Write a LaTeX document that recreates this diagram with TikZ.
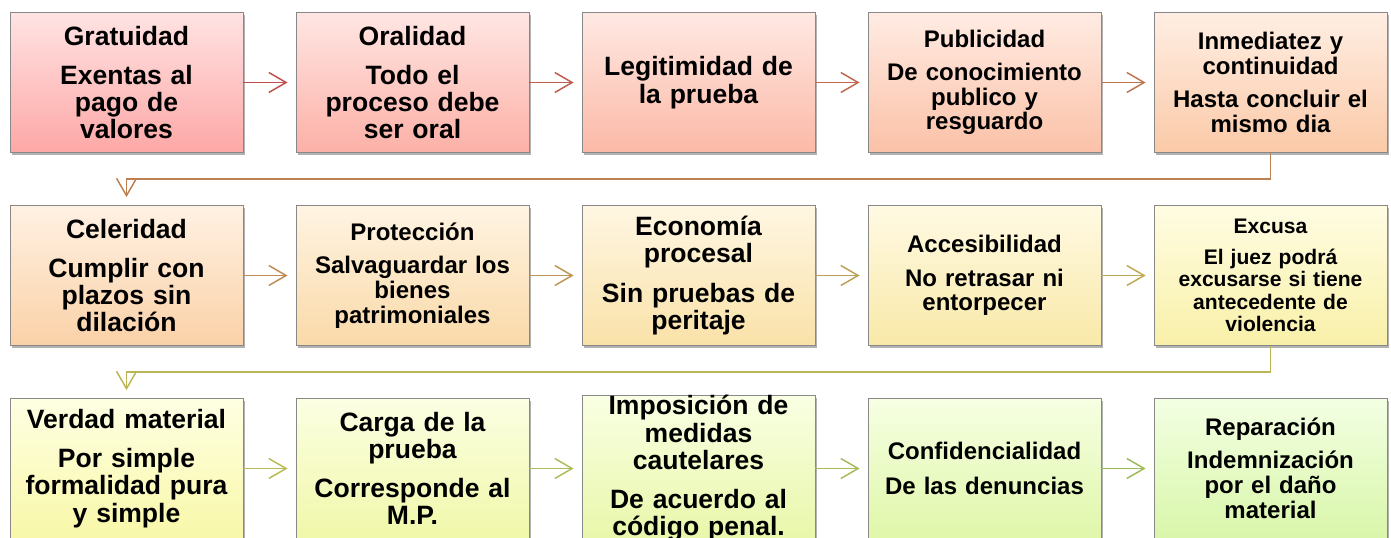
\documentclass[tikz,border=0pt]{standalone}
\usepackage{fontspec}
\setmainfont{Liberation Sans}
\usetikzlibrary{arrows.meta,shadows,calc}
\definecolor{bordergray}{HTML}{888888}
\foreach \k in {0,...,13}{%
 \pgfmathsetmacro\myH{(1.6+78*\k/13)/360}%
 \pgfmathsetmacro\myS{0.599-0.075*\k/13}%
 \pgfmathsetmacro\myV{0.753-0.02*\k/13}%
 \edef\mytmp{\noexpand\xglobal\noexpand\definecolor{arr\k}{hsb}{\myH,\myS,\myV}}\mytmp}
\foreach \k in {1,...,15}{%
 \pgfmathsetmacro\myT{(\k-1)/14}%
 \pgfmathsetmacro\myHt{85*\myT/360}%
 \pgfmathsetmacro\myHb{(1+82*\myT)/360}%
 \pgfmathsetmacro\mySb{0.34-0.03*\myT}%
 \pgfmathsetmacro\myVb{0.99-0.025*\myT}%
 \edef\mytmp{\noexpand\xglobal\noexpand\definecolor{top\k}{hsb}{\myHt,0.11,1}\noexpand\xglobal\noexpand\definecolor{bot\k}{hsb}{\myHb,\mySb,\myVb}}\mytmp}
\tikzset{
 box/.style={draw=bordergray, line width=0.6pt, minimum width=174.75pt, minimum height=105pt,
   text width=174.75pt, inner sep=0pt, align=center,
   drop shadow={shadow xshift=1.5pt, shadow yshift=-2pt, opacity=0.3, fill=black}},
 big/.style={font=\bfseries\fontsize{19.9}{20.5}\selectfont},
 med/.style={font=\bfseries\fontsize{18}{18.6}\selectfont},
 small/.style={font=\bfseries\fontsize{15.8}{16.9}\selectfont},
 flow/.style={line width=1.1pt, -{Straight Barb[length=13pt,width=15pt]}, shorten >=6pt},
}
\begin{document}
\begin{tikzpicture}[x=0.75pt,y=-0.75pt]
\useasboundingbox (0,0) rectangle (1391,538);
\fill[white] (0,0) rectangle (1391,538);
% row 1
\node[box,big,top color=top1,bottom color=bot1] (b1) at (126.5,82.5) {Gratuidad\\[8.8pt]Exentas al\\pago de\\valores};
\node[box,big,top color=top2,bottom color=bot2] (b2) at (412.5,82.5) {Oralidad\\[8.8pt]Todo el\\proceso debe\\ser oral};
\node[box,big,top color=top3,bottom color=bot3] (b3) at (698.5,82.5) {Legitimidad de\\la prueba};
\node[box,med,top color=top4,bottom color=bot4] (b4) at (984.5,82.5) {Publicidad\\[6pt]De conocimiento\\publico y\\resguardo};
\node[box,med,top color=top5,bottom color=bot5] (b5) at (1270.5,82.5) {Inmediatez y\\continuidad\\[6.5pt]Hasta concluir el\\mismo dia};
% row 2
\node[box,big,top color=top6,bottom color=bot6] (b6) at (126.5,275.5) {Celeridad\\[8.8pt]Cumplir con\\plazos sin\\dilación};
\node[box,med,top color=top7,bottom color=bot7] (b7) at (412.5,275.5) {Protección\\[6pt]Salvaguardar los\\bienes\\patrimoniales};
\node[box,big,top color=top8,bottom color=bot8] (b8) at (698.5,275.5) {Economía\\procesal\\[8.8pt]Sin pruebas de\\peritaje};
\node[box,med,top color=top9,bottom color=bot9] (b9) at (984.5,275.5) {Accesibilidad\\[6.5pt]No retrasar ni\\entorpecer};
\node[box,small,top color=top10,bottom color=bot10] (b10) at (1270.5,275.5) {Excusa\\[6.4pt]El juez podrá\\excusarse si tiene\\antecedente de\\violencia};
% row 3
\node[box,big,top color=top11,bottom color=bot11] (b11) at (126.5,468.5) {Verdad material\\[8.8pt]Por simple\\formalidad pura\\y simple};
\node[box,big,top color=top12,bottom color=bot12] (b12) at (412.5,468.5) {Carga de la\\prueba\\[8.8pt]Corresponde al\\M.P.};
\node[box,big,top color=top13,bottom color=bot13] (b13) at (698.5,468.5) {Imposición de\\medidas\\cautelares\\[8.8pt]De acuerdo al\\código penal.};
\node[box,med,top color=top14,bottom color=bot14] (b14) at (984.5,468.5) {Confidencialidad\\[7.5pt]De las denuncias};
\node[box,med,top color=top15,bottom color=bot15] (b15) at (1270.5,468.5) {Reparación\\[6pt]Indemnización\\por el daño\\material};
% connectors
\draw[flow,arr0] (b1.east) -- (b2.west);
\draw[flow,arr1] (b2.east) -- (b3.west);
\draw[flow,arr2] (b3.east) -- (b4.west);
\draw[flow,arr3] (b4.east) -- (b5.west);
\coordinate (m1) at ($(b5.south)!0.5!(b6.north)$);
\draw[flow,arr4] (b5.south) |- (m1) -| (b6.north);
\draw[flow,arr5] (b6.east) -- (b7.west);
\draw[flow,arr6] (b7.east) -- (b8.west);
\draw[flow,arr7] (b8.east) -- (b9.west);
\draw[flow,arr8] (b9.east) -- (b10.west);
\coordinate (m2) at ($(b10.south)!0.5!(b11.north)$);
\draw[flow,arr9] (b10.south) |- (m2) -| (b11.north);
\draw[flow,arr10] (b11.east) -- (b12.west);
\draw[flow,arr11] (b12.east) -- (b13.west);
\draw[flow,arr12] (b13.east) -- (b14.west);
\draw[flow,arr13] (b14.east) -- (b15.west);
\end{tikzpicture}
\end{document}
